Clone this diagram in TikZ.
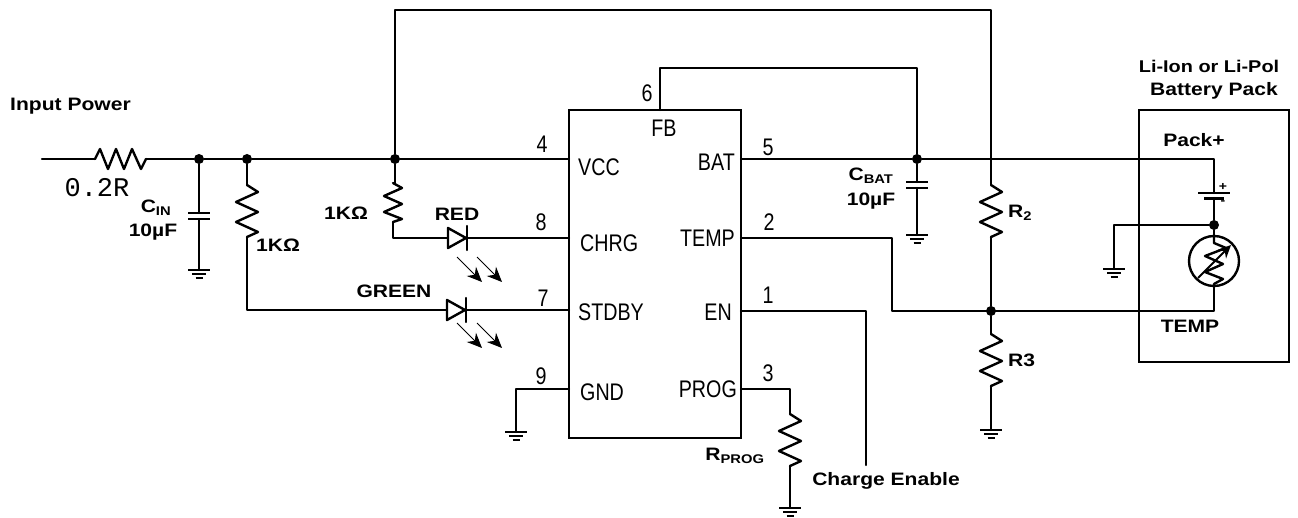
\documentclass[tikz,border=0pt]{standalone}
\usepackage{fontspec}
\setmainfont{Liberation Sans}
\newfontfamily\narrowf[FakeStretch=0.82]{Liberation Sans}
\newfontfamily\labf[UprightFont=* Bold,FakeStretch=1.17]{Liberation Sans}
\newfontfamily\monof{Liberation Mono}
\usetikzlibrary{arrows.meta}
\tikzset{
  x=1pt,y=-1pt,
  wire/.style={line width=2.4pt,line cap=round,line join=round},
  dot/.style={circle,fill=black,inner sep=0pt,minimum size=10pt},
  chipbox/.style={draw,line width=2.6pt,minimum width=172pt,minimum height=328pt,inner sep=0pt},
  packbox/.style={draw,line width=2.4pt,minimum width=150pt,minimum height=252pt,inner sep=0pt},
  pinname/.style={font=\narrowf\fontsize{24}{24}\selectfont,inner sep=0pt},
  pinnum/.style={font=\narrowf\fontsize{24}{24}\selectfont,inner sep=0pt},
  lab/.style={font=\labf\fontsize{18}{18}\selectfont,inner sep=0pt},
  light/.style={line width=1pt,-{Stealth[length=15pt,width=13pt]}},
  pics/gnd/.style={code={
    \draw[line width=2.2pt] (-11,0)--(11,0);
    \draw[line width=2.2pt] (-7,4)--(7,4);
    \draw[line width=2.2pt] (-3.5,8)--(3.5,8);}},
  pics/resv/.style={code={
    \draw[wire] (0,0)--(11,7)--(-11,17)--(11,27)--(-11,37)--(11,47)--(0,52);}},
  pics/resh/.style={code={
    \draw[wire] (0,0)--(5,-10)--(13,10)--(21,-10)--(29,10)--(37,-10)--(46,10)--(51,0);}},
  pics/capv/.style={code={
    \draw[line width=2.6pt] (-11,0)--(11,0);
    \draw[line width=2.6pt] (-11,6)--(11,6);}},
  pics/ledr/.style={code={
    \draw[wire] (0,-10)--(18,0)--(0,10)--cycle;
    \draw[wire] (19,-12)--(19,12);}},
}
\begin{document}
\begin{tikzpicture}
\useasboundingbox (0,0) rectangle (1298,518);
\fill[white] (0,0) rectangle (1298,518);
% boxes
\node[chipbox] (chip) at (655,274) {};
\node[packbox] (pack) at (1214,236) {};
% coordinates
\coordinate (in) at (42,159);
\coordinate (ra) at (95,159);
\coordinate (rb) at (146,159);
\node[dot] (j1) at (199,159) {};
\node[dot] (j2) at (247,159) {};
\node[dot] (j3) at (395,159) {};
\node[dot] (j4) at (917,159) {};
\node[dot] (j5) at (991,311) {};
\node[dot] (j6) at (1214,225) {};
\coordinate (vcc) at (569,159);
\coordinate (chrg) at (569,238);
\coordinate (stdby) at (569,310);
\coordinate (gnd) at (569,389);
\coordinate (fb) at (660,110);
\coordinate (bat) at (741,159);
\coordinate (temp) at (741,238);
\coordinate (en) at (741,311);
\coordinate (prog) at (741,389);
\coordinate (r1a) at (247,185); \coordinate (r1b) at (247,237);
\coordinate (r2a) at (393,183); \coordinate (r2b) at (393,222);
\coordinate (r3a) at (991,185); \coordinate (r3b) at (991,237);
\coordinate (r4a) at (991,334); \coordinate (r4b) at (991,386);
\coordinate (r5a) at (790,414); \coordinate (r5b) at (790,466);
\coordinate (c1a) at (199,213); \coordinate (c1b) at (199,219);
\coordinate (c2a) at (917,182); \coordinate (c2b) at (917,188);
\coordinate (g1) at (199,270); \coordinate (g2) at (917,235);
\coordinate (g3) at (991,430); \coordinate (g4) at (790,508);
\coordinate (g5) at (516,432); \coordinate (g6) at (1114,269);
\coordinate (ce) at (866,465);
\coordinate (bp) at (1214,193); \coordinate (bn) at (1214,198);
\coordinate (thb) at (1214,286); \coordinate (tht) at (1214,236);
\node[circle,draw,line width=2.4pt,minimum size=50pt,inner sep=0pt] (th) at (1214,261) {};
% wires
\draw[wire] (in)--(ra) (rb)--(j1)--(j2)--(j3)--(vcc);
\draw[wire] (j3)--(395,10)--(991,10)--(r3a);
\draw[wire] (fb)--(660,68)--(917,68)--(j4);
\draw[wire] (bat)--(j4)--(1214,159)--(bp);
\draw[wire] (j1)--(c1a) (c1b)--(g1);
\draw[wire] (j2)--(r1a) (r1b)--(247,310)--(stdby);
\draw[wire] (j3)--(395,183) (r2b)--(393,238)--(chrg);
\draw[wire] (j4)--(c2a) (c2b)--(g2);
\draw[wire] (r3b)--(j5)--(r4a) (r4b)--(g3);
\draw[wire] (temp)--(892,238)--(892,311)--(1214,311)--(thb);
\draw[wire] (en)--(866,311)--(ce);
\draw[wire] (prog)--(790,389)--(r5a) (r5b)--(g4);
\draw[wire] (gnd)--(516,389)--(g5);
\draw[wire] (bn)--(j6)--(tht);
\draw[wire] (j6)--(1114,225)--(g6);
% components
\pic at (ra) {resh};
\pic at (r1a) {resv};
\pic at (r3a) {resv};
\pic at (r4a) {resv};
\pic at (r5a) {resv};
\draw[wire] (r2a)--++(9,5)--++(-18,8)--++(18,8)--++(-18,8)--++(18,7)--(r2b);
\pic at (c1a) {capv};
\pic at (c2a) {capv};
\draw[line width=2.6pt] (1198,193)--(1230,193);
\draw[line width=2.6pt] (1204,198.5)--(1224,198.5);
\foreach \g in {g1,g2,g3,g4,g5,g6}{\pic at (\g) {gnd};}
% LEDs
\fill[white] (448,228) rectangle (467,248);
\fill[white] (447,300) rectangle (466,320);
\pic at (448,238) {ledr};
\pic at (447,310) {ledr};
\draw[light] (457,257)--(482,282);
\draw[light] (477,257)--(502,282);
\draw[light] (457,323)--(482,348);
\draw[light] (477,323)--(502,348);
% thermistor
\draw[wire] (1214,236)--(1214,243)--(1226,248)--(1205,256)--(1223,264)--(1205,272)--(1223,279)--(1214,284)--(thb);
\draw[line width=1.8pt,-{Stealth[length=13pt,width=12pt]}] (1198,278)--(1231,245);
% pin names
\node[pinname,anchor=west] at (578,167) {VCC};
\node[pinname,anchor=west] at (580,243) {CHRG};
\node[pinname,anchor=west] at (578,312) {STDBY};
\node[pinname,anchor=west] at (580,392) {GND};
\node[pinname] at (664,128) {FB};
\node[pinname,anchor=east] at (735,162) {BAT};
\node[pinname,anchor=east] at (735,238) {TEMP};
\node[pinname,anchor=east] at (732,312) {EN};
\node[pinname,anchor=east] at (737,389) {PROG};
% pin numbers
\node[pinnum] at (542,144) {4};
\node[pinnum] at (541,222) {8};
\node[pinnum] at (543,298) {7};
\node[pinnum] at (541,376) {9};
\node[pinnum] at (647,93) {6};
\node[pinnum] at (768,147) {5};
\node[pinnum] at (769,222) {2};
\node[pinnum] at (768,295) {1};
\node[pinnum] at (768,373) {3};
% labels
\node[lab,anchor=west] at (10,106) {Input Power};
\node[font=\monof\fontsize{27}{27}\selectfont,inner sep=0pt] at (97,188) {0.2R};
\node[lab] at (156,208) {C\textsubscript{IN}};
\node[lab] at (153,232) {10µF};
\node[lab] at (278,245) {1KΩ};
\node[lab] at (346,213) {1KΩ};
\node[lab] at (457,214) {RED};
\node[lab] at (394,291) {GREEN};
\node[lab] at (871,176) {C\textsubscript{BAT}};
\node[lab] at (871,201) {10µF};
\node[lab,anchor=west] at (1008,213) {R\textsubscript{2}};
\node[lab,anchor=west] at (1008,360) {R3};
\node[lab] at (735,456) {R\textsubscript{PROG}};
\node[lab] at (886,481) {Charge Enable};
\node[lab] at (1194,140) {Pack+};
\node[lab] at (1190,326) {TEMP};
\node[lab,font=\labf\fontsize{17}{17}\selectfont] at (1209,66) {Li-Ion or Li-Pol};
\node[lab] at (1214,91) {Battery Pack};
\node[font=\labf\fontsize{12}{12}\selectfont,inner sep=0pt] at (1223,187) {+};
\node[font=\labf\fontsize{12}{12}\selectfont,inner sep=0pt] at (1223,203) {-};
\end{tikzpicture}
\end{document}
